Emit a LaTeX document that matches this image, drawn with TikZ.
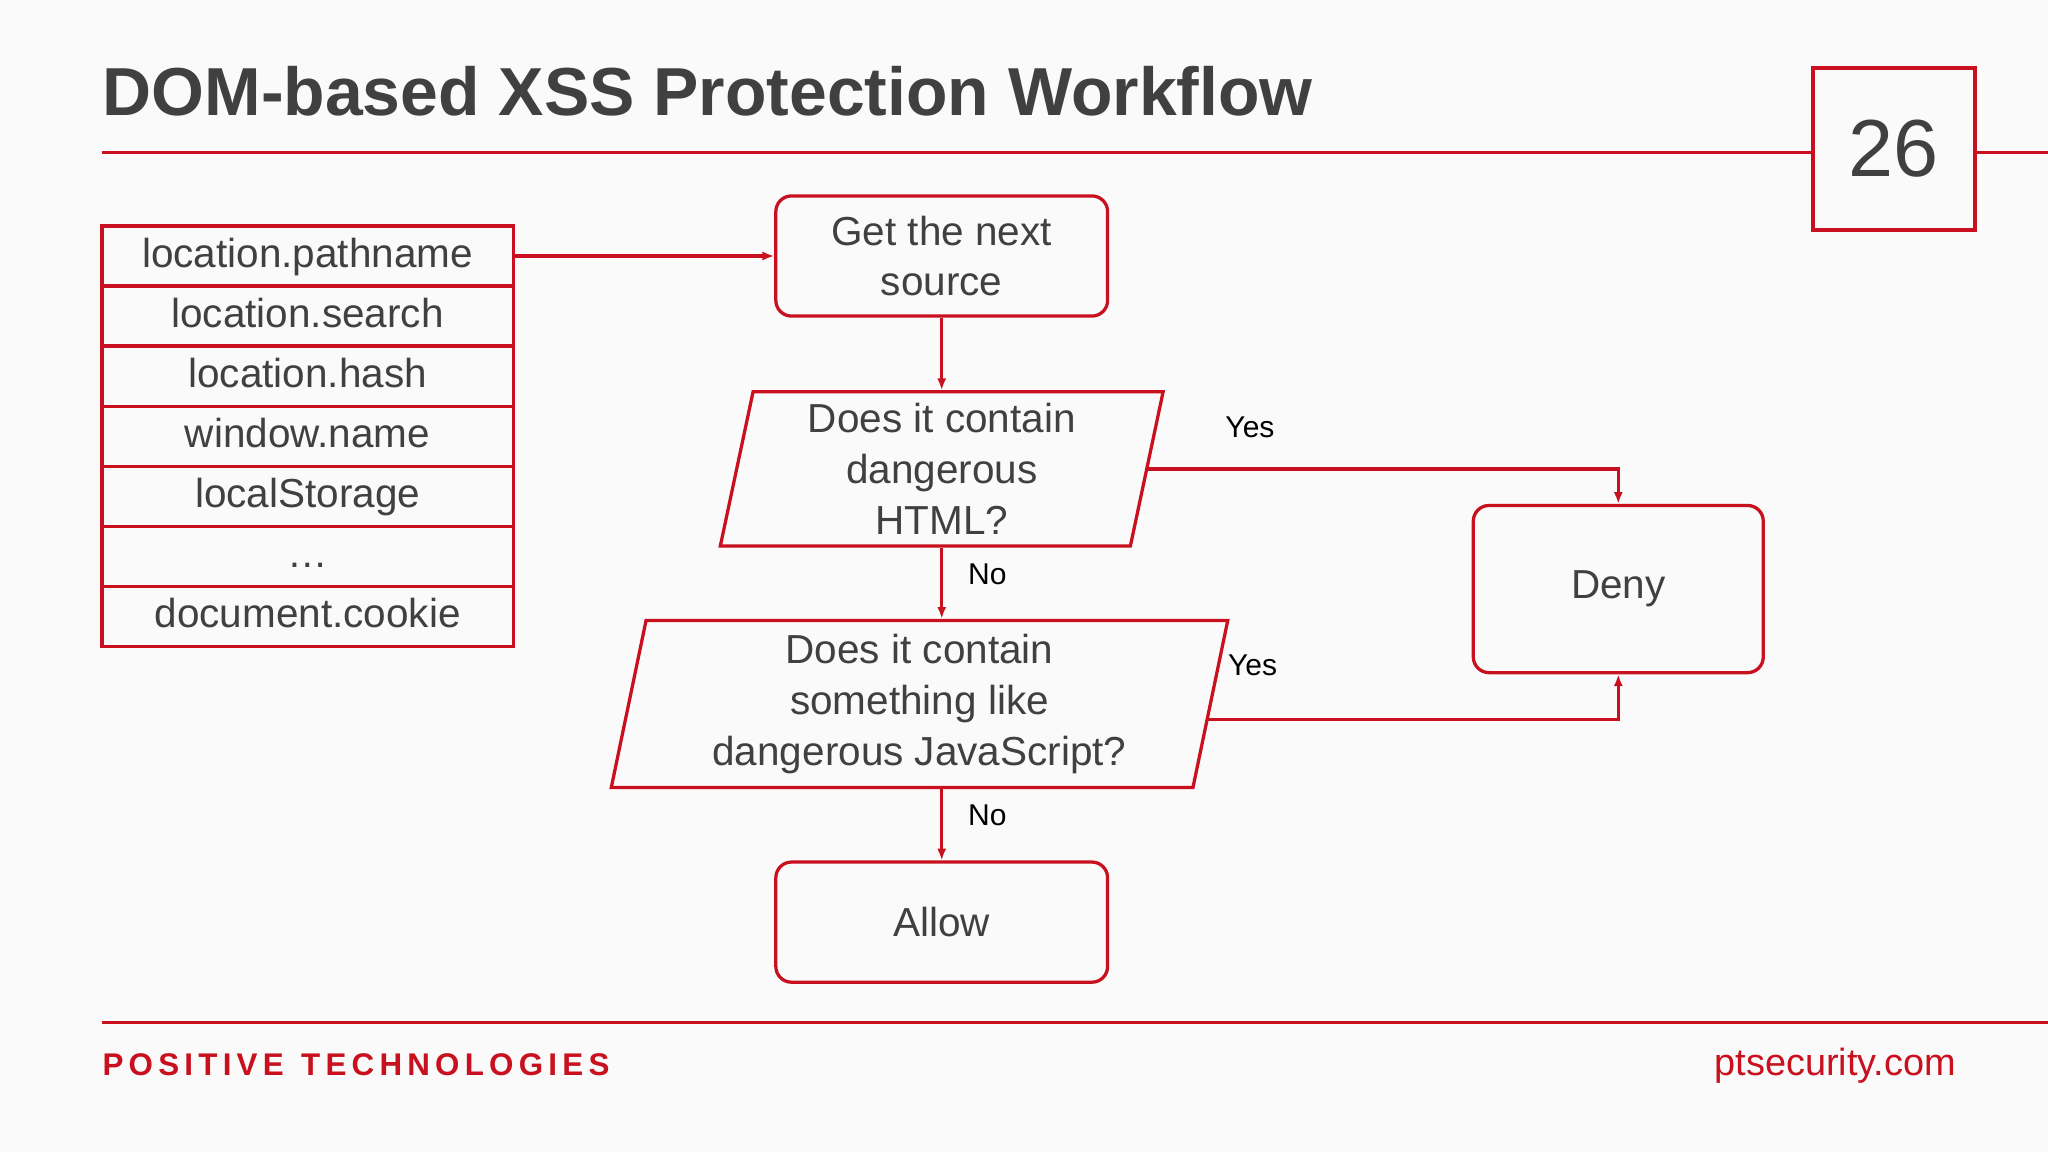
\documentclass[tikz,border=0pt]{standalone}
\usepackage{fontspec}
\setmainfont{Liberation Sans}
\usetikzlibrary{shapes.geometric,arrows.meta,positioning}
\definecolor{ptred}{RGB}{200,16,30}
\definecolor{ptgray}{RGB}{64,64,64}
\tikzstyle{src} = [rectangle, draw=ptred, line width=2.5pt, minimum width=315pt, minimum height=46pt, inner sep=0pt, outer sep=0pt, text height=22pt, text depth=5pt, text=ptgray, font=\fontsize{31}{36}\selectfont]
\tikzstyle{stepbox} = [rectangle, rounded corners=12pt, draw=ptred, line width=2.5pt, minimum width=254pt, minimum height=92pt, align=center, text=ptgray, font=\fontsize{31}{39}\selectfont]
\tikzstyle{question} = [trapezium, trapezium left angle=76, trapezium right angle=104, trapezium stretches body, draw=ptred, line width=2.5pt, align=center, text=ptgray, inner sep=0pt, font=\fontsize{31}{39}\selectfont]
\tikzstyle{arrow} = [ptred, line width=2.5pt, -{Latex[length=9pt,width=7pt]}]
\tikzstyle{answer} = [font=\fontsize{23}{27}\selectfont, text=black]
\begin{document}
\begin{tikzpicture}[x=1pt,y=-1pt]
\useasboundingbox[fill={rgb,255:red,250;green,250;blue,250}] (0,0) rectangle (1568,882);

% header
\node[anchor=west, text=ptgray, font=\bfseries\fontsize{52}{58}\selectfont] (title) at (75,70) {DOM-based XSS Protection Workflow};
\node (page) [rectangle, draw=ptred, line width=2.5pt, minimum width=124pt, minimum height=124pt, text=ptgray, font=\fontsize{62}{70}\selectfont] at (1450,114) {26};
\coordinate (rulel) at (78,117);
\coordinate (ruler) at (1568,117);
\draw[ptred, line width=2.5pt] (rulel) -- (rulel -| page.west);
\draw[ptred, line width=2.5pt] (ruler -| page.east) -- (ruler);

% sources
\node (s1) [src] at (235.5,196) {location.pathname};
\node (s2) [src, below=0pt of s1] {location.search};
\node (s3) [src, below=0pt of s2] {location.hash};
\node (s4) [src, below=0pt of s3] {window.name};
\node (s5) [src, below=0pt of s4] {localStorage};
\node (s6) [src, below=0pt of s5] {\dots};
\node (s7) [src, below=0pt of s6] {document.cookie};

% flow
\node (next) [stepbox] at (721,196) {Get the next\\source};
\node (html) [question, minimum width=339pt, minimum height=118pt] at (721,359) {Does it contain\\dangerous\\HTML?};
\node (js) [question, minimum width=472pt, minimum height=128pt] at (704,539) {Does it contain\\something like\\dangerous JavaScript?};
\node (allow) [stepbox] at (721,706) {Allow};
\node (deny) [stepbox, minimum width=222pt, minimum height=128pt] at (1239,451) {Deny};
\coordinate (jsout) at ([shift={(-3,12)}]js.east);

%arrows
\draw [arrow] (s1.east) -- (next.west);
\draw [arrow] (next) -- (html);
\draw [arrow] (html.south) -- (js.north -| html.south);
\draw [arrow] (js.south -| allow.north) -- (allow);
\draw [arrow] (html.east) -| (deny.north);
\draw [arrow] (jsout) -| (deny.south);

\node[answer] (yes1) at (957,327) {Yes};
\node[answer] (no1) at (756,440) {No};
\node[answer] (yes2) at (959,509) {Yes};
\node[answer] (no2) at (756,624) {No};

% footer
\draw[ptred, line width=2.5pt] (78,783) -- (1568,783);
\node[anchor=west, text=ptred, font=\bfseries\fontsize{24}{28}\selectfont] (brand) at (75,815) {P\,O\,S\,I\,T\,I\,V\,E\ \ T\,E\,C\,H\,N\,O\,L\,O\,G\,I\,E\,S};
\node[anchor=east, text=ptred, font=\fontsize{29}{34}\selectfont] (site) at (1501,816) {ptsecurity.com};
\end{tikzpicture}
\end{document}
